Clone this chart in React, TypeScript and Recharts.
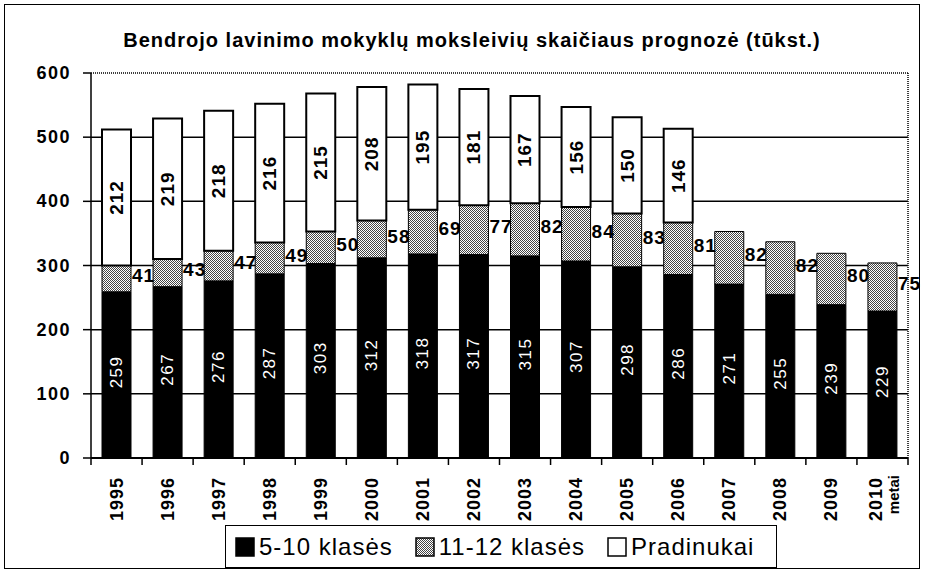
import React from "react";
import { BarChart, Bar, XAxis, YAxis, CartesianGrid, LabelList } from "recharts";

const years = ["1995","1996","1997","1998","1999","2000","2001","2002","2003","2004","2005","2006","2007","2008","2009","2010"];
const grades510 = [259,267,276,287,303,312,318,317,315,307,298,286,271,255,239,229];
const grades1112 = [41,43,47,49,50,58,69,77,82,84,83,81,82,82,80,75];
const primary: (number | null)[] = [212,219,218,216,215,208,195,181,167,156,150,146,null,null,null,null];
const yTicks = [0,100,200,300,400,500,600];
const seriesNames = ["5-10 klasės", "11-12 klasės", "Pradinukai"];
const titleText = "Bendrojo lavinimo mokyklų moksleivių skaičiaus prognozė (tūkst.)";
const axisUnit = "metai";

const data = years.map((y, i) => ({ year: y, a: grades510[i], b: grades1112[i], c: primary[i] }));

const FONT = "'Liberation Sans', Arial, sans-serif";
const BAND = 817 / 16;

const WhiteVert = (p: any) => {
  const { x, y, width, height, value } = p;
  if (value == null) return null;
  const cx = x + width / 2;
  const cy = y + height / 2 - 3;
  return (
    <text x={cx} y={cy} transform={`rotate(-90 ${cx} ${cy})`} textAnchor="middle" dominantBaseline="central"
      fill="#fff" fontSize={17} fontFamily={FONT} letterSpacing={1.5}>{value}</text>
  );
};

const BlackVert = (p: any) => {
  const { x, y, width, height, value } = p;
  if (value == null) return null;
  const cx = x + width / 2;
  const cy = y + height / 2;
  return (
    <text x={cx} y={cy} transform={`rotate(-90 ${cx} ${cy})`} textAnchor="middle" dominantBaseline="central"
      fill="#000" fontSize={19} fontWeight="bold" fontFamily={FONT} letterSpacing={1}>{value}</text>
  );
};

const SideLabel = (p: any) => {
  const { x, y, width, height, value } = p;
  if (value == null) return null;
  const cy = y + height / 2 - 3;
  return (
    <text x={x + width + 1} y={cy} textAnchor="start" dominantBaseline="central"
      fill="#000" fontSize={19} fontWeight="bold" fontFamily={FONT} letterSpacing={1}>{value}</text>
  );
};

const XTick = (p: any) => {
  const { x, y, payload, index } = p;
  const idx = payload && payload.index != null ? payload.index : index;
  const last = idx === years.length - 1;
  const tx = x - (last ? 6 : 0);
  return (
    <g>
      <line x1={x - BAND / 2} x2={x - BAND / 2} y1={y} y2={y + 7} stroke="#000" strokeWidth={1.5} />
      {last && <line x1={x + BAND / 2} x2={x + BAND / 2} y1={y} y2={y + 7} stroke="#000" strokeWidth={1.5} />}
      <text x={tx} y={y + 19} transform={`rotate(-90 ${tx} ${y + 19})`} textAnchor="end"
        dominantBaseline="central" fontSize={18} fontWeight="bold" fontFamily={FONT} letterSpacing={1}>{payload.value}</text>
      {last && (
        <text x={x + 11} y={y + 17} transform={`rotate(-90 ${x + 11} ${y + 17})`} textAnchor="end"
          dominantBaseline="central" fontSize={15} fontWeight="bold" fontFamily={FONT}>{axisUnit}</text>
      )}
    </g>
  );
};

const YTick = (p: any) => {
  const { x, y, payload } = p;
  return (
    <text x={x} y={y} textAnchor="end" dominantBaseline="central" fontSize={18} fontWeight="bold"
      fontFamily={FONT} letterSpacing={1.5}>{payload.value}</text>
  );
};

const Swatch = ({ kind }: { kind: number }) => {
  const fill = kind === 0 ? "#000" : kind === 1 ? "url(#chk2)" : "#fff";
  return (
    <svg width={20} height={20} style={{ display: "block" }}>
      <defs>
        <pattern id="chk2" width={2} height={2} patternUnits="userSpaceOnUse">
          <rect width={2} height={2} fill="#fff" />
          <rect width={1} height={1} fill="#444" />
          <rect x={1} y={1} width={1} height={1} fill="#444" />
        </pattern>
      </defs>
      <rect x={1} y={1} width={18} height={18} fill={fill} stroke="#000" strokeWidth={1.5} />
    </svg>
  );
};

export default function App() {
  return (
    <div style={{ position: "absolute", left: 0, top: 0, width: 926, height: 575, background: "#fff", fontFamily: FONT }}>
      <div style={{ position: "absolute", left: 4, top: 4, width: 916, height: 565, border: "1.5px solid #000", boxSizing: "border-box" }} />
      <div style={{ position: "absolute", left: 0, top: 29, width: 944, textAlign: "center", fontSize: 20, fontWeight: "bold", letterSpacing: 1 }}>
        {titleText}
      </div>
      <div style={{ position: "absolute", left: 0, top: 0 }}>
        <BarChart width={926} height={575} data={data} margin={{ top: 73, right: 18, bottom: 0, left: 31 }} barSize={29}>
          <defs>
            <pattern id="chk" width={2} height={2} patternUnits="userSpaceOnUse">
              <rect width={2} height={2} fill="#fff" />
              <rect width={1} height={1} fill="#444" />
              <rect x={1} y={1} width={1} height={1} fill="#444" />
            </pattern>
          </defs>
          <CartesianGrid vertical={false} horizontalValues={[100, 200, 300, 400, 500]} stroke="#000" strokeWidth={1.5} />
          <CartesianGrid horizontalValues={[600]} verticalCoordinatesGenerator={(a: any) => [a.offset.left + a.offset.width]}
            stroke="#000" strokeWidth={1.5} strokeDasharray="1 1" />
          <XAxis dataKey="year" height={117} interval={0} tickLine={false} tickSize={0} tickMargin={0}
            axisLine={{ stroke: "#000", strokeWidth: 2 }} tick={<XTick />} />
          <YAxis domain={[0, 600]} ticks={yTicks} width={60} tickSize={8} tickMargin={12}
            axisLine={{ stroke: "#000", strokeWidth: 1.5 }} tickLine={{ stroke: "#000", strokeWidth: 1.5 }} tick={<YTick />} />
          <Bar dataKey="a" stackId="s" name={seriesNames[0]} fill="#000" stroke="#000" strokeWidth={1} isAnimationActive={false}>
            <LabelList dataKey="a" content={<WhiteVert />} />
          </Bar>
          <Bar dataKey="b" stackId="s" name={seriesNames[1]} fill="url(#chk)" stroke="#000" strokeWidth={1} isAnimationActive={false}>
            <LabelList dataKey="b" content={<SideLabel />} />
          </Bar>
          <Bar dataKey="c" stackId="s" name={seriesNames[2]} fill="#fff" stroke="#000" strokeWidth={2} isAnimationActive={false}>
            <LabelList dataKey="c" content={<BlackVert />} />
          </Bar>
        </BarChart>
      </div>
      <div style={{ position: "absolute", left: 225, top: 525, width: 552, height: 43, border: "1.5px solid #000", boxSizing: "border-box",
        background: "#fff", display: "flex", alignItems: "center", justifyContent: "flex-start", paddingLeft: 9, fontSize: 24, letterSpacing: 1 }}>
        {seriesNames.map((n, i) => (
          <div key={n} style={{ display: "flex", alignItems: "center", gap: 4, marginRight: i < 2 ? 22 : 0 }}>
            <Swatch kind={i} />
            <span>{n}</span>
          </div>
        ))}
      </div>
    </div>
  );
}
